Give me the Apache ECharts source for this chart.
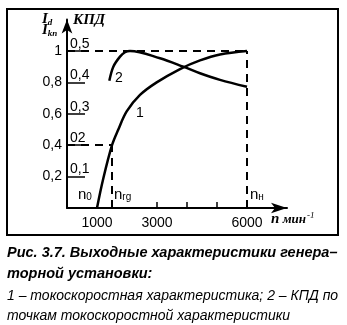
<!DOCTYPE html>
<html>
<head>
<meta charset="utf-8">
<script src="https://cdn.jsdelivr.net/npm/echarts@6/dist/echarts.min.js"></script>
<style>
html,body{margin:0;padding:0;background:#fff;}
#c{width:347px;height:325px;}
</style>
</head>
<body>
<div id="c"></div>
<script>
// ---- data ----
const speedCurrent = [1000, 1200, 1500, 1711, 1989, 2433, 2989, 3767, 4433, 5100, 6000];
const currentRel   = [0, 0.18, 0.40, 0.50, 0.615, 0.72, 0.80, 0.885, 0.94, 0.978, 1.0];
const speedEff = [1411, 1544, 1767, 1933, 2100, 3100, 3878, 4433, 5100, 6000];
const efficiency = [0.405, 0.45, 0.482, 0.496, 0.5, 0.477, 0.45, 0.429, 0.408, 0.386];
const xLabelValues = [1000, 3000, 6000];
const xTickValues = [3000, 4000, 5000, 6000];
const leftTickValues = [0.2, 0.4, 0.6, 0.8, 1.0];
const leftTickLabels = ['0,2', '0,4', '0,6', '0,8', '1'];
const rightTickValues = [0.1, 0.2, 0.3, 0.4, 0.5];
const rightTickLabels = ['0,1', '02', '0,3', '0,4', '0,5'];
const nNominal = 6000, nRg = 1500, iRg = 0.4, iMax = 1.0;

const chart = echarts.init(document.getElementById('c'), null, {renderer: 'canvas'});
const F = 'Liberation Sans, Arial, sans-serif';
const SERIF = 'Liberation Serif, Times New Roman, serif';
const dash = {type: [8, 6], width: 2, color: '#000'};

const option = {
  backgroundColor: '#fff',
  animation: false,
  grid: {left: 67, top: 19.6, right: 60, bottom: 117},
  xAxis: {
    type: 'value', min: 0, max: 7333,
    axisLine: {show: true, symbol: ['none', 'arrow'], symbolSize: [8, 16], lineStyle: {color: '#000', width: 2}},
    axisTick: {show: true, inside: true, length: 6, customValues: xTickValues, lineStyle: {color: '#000', width: 1.5}},
    axisLabel: {customValues: xLabelValues, color: '#000', fontFamily: F, fontSize: 14, margin: 8,
      formatter: v => String(v)},
    splitLine: {show: false}
  },
  yAxis: [
    {
      type: 'value', min: 0, max: 1.2, position: 'left',
      axisLine: {show: true, symbol: ['none', 'arrow'], symbolSize: [8, 14], lineStyle: {color: '#000', width: 2}},
      axisTick: {show: false},
      axisLabel: {customValues: leftTickValues, color: '#000', fontFamily: F, fontSize: 14, margin: 5,
        formatter: v => leftTickLabels[leftTickValues.findIndex(t => Math.abs(t - v) < 1e-6)] || ''},
      splitLine: {show: false}
    },
    {
      type: 'value', min: 0, max: 0.6, position: 'left', offset: 0,
      axisLine: {show: false},
      axisTick: {show: true, inside: true, length: 18, customValues: rightTickValues, lineStyle: {color: '#000', width: 1.5}},
      axisLabel: {inside: true, customValues: rightTickValues, color: '#000', fontFamily: F, fontSize: 14, margin: 3,
        verticalAlign: 'bottom',
        formatter: v => rightTickLabels[rightTickValues.findIndex(t => Math.abs(t - v) < 1e-6)] || ''},
      splitLine: {show: false}
    }
  ],
  series: [
    {
      type: 'line', yAxisIndex: 0, smooth: 0.35, symbol: 'none',
      lineStyle: {color: '#000', width: 2.5},
      data: speedCurrent.map((x, i) => [x, currentRel[i]]),
      markLine: {
        silent: true, symbol: 'none', label: {show: false}, lineStyle: dash,
        data: [
          [{coord: [0, iMax]}, {coord: [nNominal, iMax]}],
          [{coord: [nNominal, 0]}, {coord: [nNominal, iMax]}],
          [{coord: [0, iRg]}, {coord: [nRg, iRg]}],
          [{coord: [nRg, 0]}, {coord: [nRg, iRg]}]
        ]
      }
    },
    {
      type: 'line', yAxisIndex: 1, smooth: 0.35, symbol: 'none',
      lineStyle: {color: '#000', width: 2.5},
      data: speedEff.map((x, i) => [x, efficiency[i]])
    }
  ],
  graphic: [
    {type: 'rect', shape: {x: 7, y: 9, width: 331, height: 226}, style: {fill: 'none', stroke: '#000', lineWidth: 2}, silent: true},
    {type: 'text', left: 42, top: 12, style: {text: '{a|I}{b|d}', rich: {
      a: {fontFamily: SERIF, fontStyle: 'italic', fontWeight: 'bold', fontSize: 15, fill: '#000'},
      b: {fontFamily: SERIF, fontStyle: 'italic', fontWeight: 'bold', fontSize: 9, fill: '#000', verticalAlign: 'bottom', padding: [6, 0, 0, 0]}}}},
    {type: 'text', left: 42, top: 23, style: {text: '{a|I}{b|kn}', rich: {
      a: {fontFamily: SERIF, fontStyle: 'italic', fontWeight: 'bold', fontSize: 15, fill: '#000'},
      b: {fontFamily: SERIF, fontStyle: 'italic', fontWeight: 'bold', fontSize: 9, fill: '#000', verticalAlign: 'bottom', padding: [6, 0, 0, 0]}}}},
    {type: 'text', left: 73, top: 13, style: {text: 'КПД', fontFamily: SERIF, fontStyle: 'italic', fontWeight: 'bold', fontSize: 15, fill: '#000'}},
    {type: 'text', left: 115, top: 71, style: {text: '2', fontFamily: F, fontSize: 14, fill: '#000'}},
    {type: 'text', left: 136, top: 106, style: {text: '1', fontFamily: F, fontSize: 14, fill: '#000'}},
    {type: 'text', left: 78, top: 187, style: {text: '{a|n}{b|0}', rich: {
      a: {fontFamily: F, fontSize: 15, fill: '#000'}, b: {fontFamily: F, fontSize: 10, fill: '#000', padding: [5, 0, 0, 0]}}}},
    {type: 'text', left: 114, top: 187, style: {text: '{a|n}{b|rg}', rich: {
      a: {fontFamily: F, fontSize: 15, fill: '#000'}, b: {fontFamily: F, fontSize: 10, fill: '#000', padding: [5, 0, 0, 0]}}}},
    {type: 'text', left: 250, top: 187, style: {text: '{a|n}{b|н}', rich: {
      a: {fontFamily: F, fontSize: 15, fill: '#000'}, b: {fontFamily: F, fontSize: 10, fill: '#000', padding: [5, 0, 0, 0]}}}},
    {type: 'text', left: 271, top: 211, style: {text: '{a|n} {b|мин}{c|-1}', rich: {
      a: {fontFamily: SERIF, fontStyle: 'italic', fontWeight: 'bold', fontSize: 15, fill: '#000'},
      b: {fontFamily: SERIF, fontStyle: 'italic', fontWeight: 'bold', fontSize: 13, fill: '#000'},
      c: {fontFamily: SERIF, fontStyle: 'italic', fontSize: 9, fill: '#000', padding: [0, 0, 8, 1]}}}},
    {type: 'text', left: 7, top: 245, style: {text: 'Рис. 3.7. Выходные характеристики генера–', fontFamily: F, fontStyle: 'italic', fontWeight: 'bold', fontSize: 14.5, fill: '#000'}},
    {type: 'text', left: 7, top: 266, style: {text: 'торной установки:', fontFamily: F, fontStyle: 'italic', fontWeight: 'bold', fontSize: 14.5, fill: '#000'}},
    {type: 'text', left: 7, top: 289, style: {text: '1 – токоскоростная характеристика; 2 – КПД по', fontFamily: F, fontStyle: 'italic', fontSize: 14, fill: '#000'}},
    {type: 'text', left: 7, top: 309, style: {text: 'точкам токоскоростной характеристики', fontFamily: F, fontStyle: 'italic', fontSize: 14, fill: '#000'}}
  ]
};
chart.setOption(option);
</script>
</body>
</html>
